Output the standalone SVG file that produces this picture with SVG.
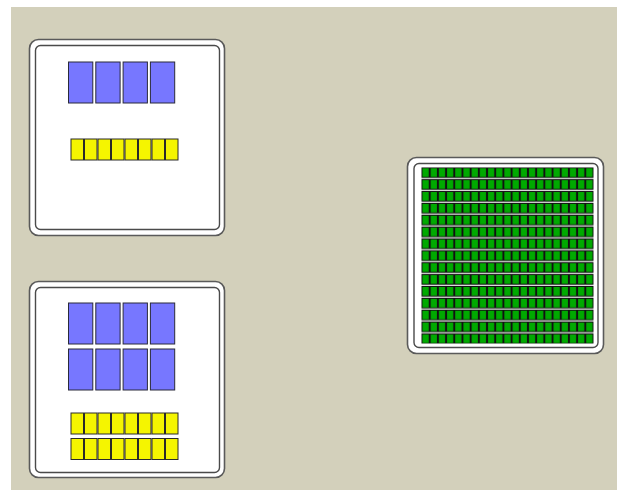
<svg xmlns="http://www.w3.org/2000/svg" width="617" height="490" viewBox="0 0 617 490">
<style>
.outer{fill:#ffffff;stroke:#5a5a5a;stroke-width:1.6}
.inner{fill:#ffffff;stroke:#4a4a4a;stroke-width:1.4}
.blue{fill:#7777ff;stroke:#2a2a3a;stroke-width:1}
.yel{fill:#f5f500;stroke:#2a2a2a;stroke-width:1}
</style>
<defs>
<pattern id="cell" x="421.5" y="167.3" width="8.19" height="11.87" patternUnits="userSpaceOnUse">
<rect x="0" y="0" width="8.19" height="11.87" fill="#ffffff"/>
<rect x="0.5" y="0.5" width="7.19" height="9.6" fill="#00aa00" stroke="#111111" stroke-width="1"/>
<rect x="0" y="10.8" width="8.19" height="0.6" fill="#bbbbbb"/>
</pattern>
</defs>
<rect x="11" y="7" width="606" height="483" fill="#d3d0bb"/>
<g id="node1">
<rect class="outer" x="29.5" y="39.5" width="195" height="196" rx="9"/>
<rect class="inner" x="35.5" y="45.5" width="184" height="184" rx="5"/>
<rect class="blue" x="68.5" y="62" width="24.3" height="41"/>
<rect class="blue" x="95.8" y="62" width="24.3" height="41"/>
<rect class="blue" x="123.1" y="62" width="24.3" height="41"/>
<rect class="blue" x="150.4" y="62" width="24.3" height="41"/>
<rect class="yel" x="71" y="139" width="12.5" height="21"/>
<rect class="yel" x="84.5" y="139" width="12.5" height="21"/>
<rect class="yel" x="98" y="139" width="12.5" height="21"/>
<rect class="yel" x="111.5" y="139" width="12.5" height="21"/>
<rect class="yel" x="125" y="139" width="12.5" height="21"/>
<rect class="yel" x="138.5" y="139" width="12.5" height="21"/>
<rect class="yel" x="152" y="139" width="12.5" height="21"/>
<rect class="yel" x="165.5" y="139" width="12.5" height="21"/>
</g>
<g id="node2">
<rect class="outer" x="29.5" y="281.5" width="195" height="196" rx="9"/>
<rect class="inner" x="35.5" y="287.5" width="184" height="185" rx="5"/>
<rect class="blue" x="68.5" y="303" width="24.3" height="41"/>
<rect class="blue" x="95.8" y="303" width="24.3" height="41"/>
<rect class="blue" x="123.1" y="303" width="24.3" height="41"/>
<rect class="blue" x="150.4" y="303" width="24.3" height="41"/>
<rect class="blue" x="68.5" y="349" width="24.3" height="41"/>
<rect class="blue" x="95.8" y="349" width="24.3" height="41"/>
<rect class="blue" x="123.1" y="349" width="24.3" height="41"/>
<rect class="blue" x="150.4" y="349" width="24.3" height="41"/>
<rect class="yel" x="71" y="413" width="12.5" height="21"/>
<rect class="yel" x="84.5" y="413" width="12.5" height="21"/>
<rect class="yel" x="98" y="413" width="12.5" height="21"/>
<rect class="yel" x="111.5" y="413" width="12.5" height="21"/>
<rect class="yel" x="125" y="413" width="12.5" height="21"/>
<rect class="yel" x="138.5" y="413" width="12.5" height="21"/>
<rect class="yel" x="152" y="413" width="12.5" height="21"/>
<rect class="yel" x="165.5" y="413" width="12.5" height="21"/>
<rect class="yel" x="71" y="438.5" width="12.5" height="21"/>
<rect class="yel" x="84.5" y="438.5" width="12.5" height="21"/>
<rect class="yel" x="98" y="438.5" width="12.5" height="21"/>
<rect class="yel" x="111.5" y="438.5" width="12.5" height="21"/>
<rect class="yel" x="125" y="438.5" width="12.5" height="21"/>
<rect class="yel" x="138.5" y="438.5" width="12.5" height="21"/>
<rect class="yel" x="152" y="438.5" width="12.5" height="21"/>
<rect class="yel" x="165.5" y="438.5" width="12.5" height="21"/>
</g>
<g id="node3">
<rect class="outer" x="407.5" y="157.5" width="196" height="196" rx="9"/>
<rect class="inner" x="414" y="163.5" width="184" height="184" rx="5"/>
<rect x="421.5" y="167.3" width="171.99" height="176.3" fill="url(#cell)"/>
</g>
<g id="connectors"/>
</svg>
